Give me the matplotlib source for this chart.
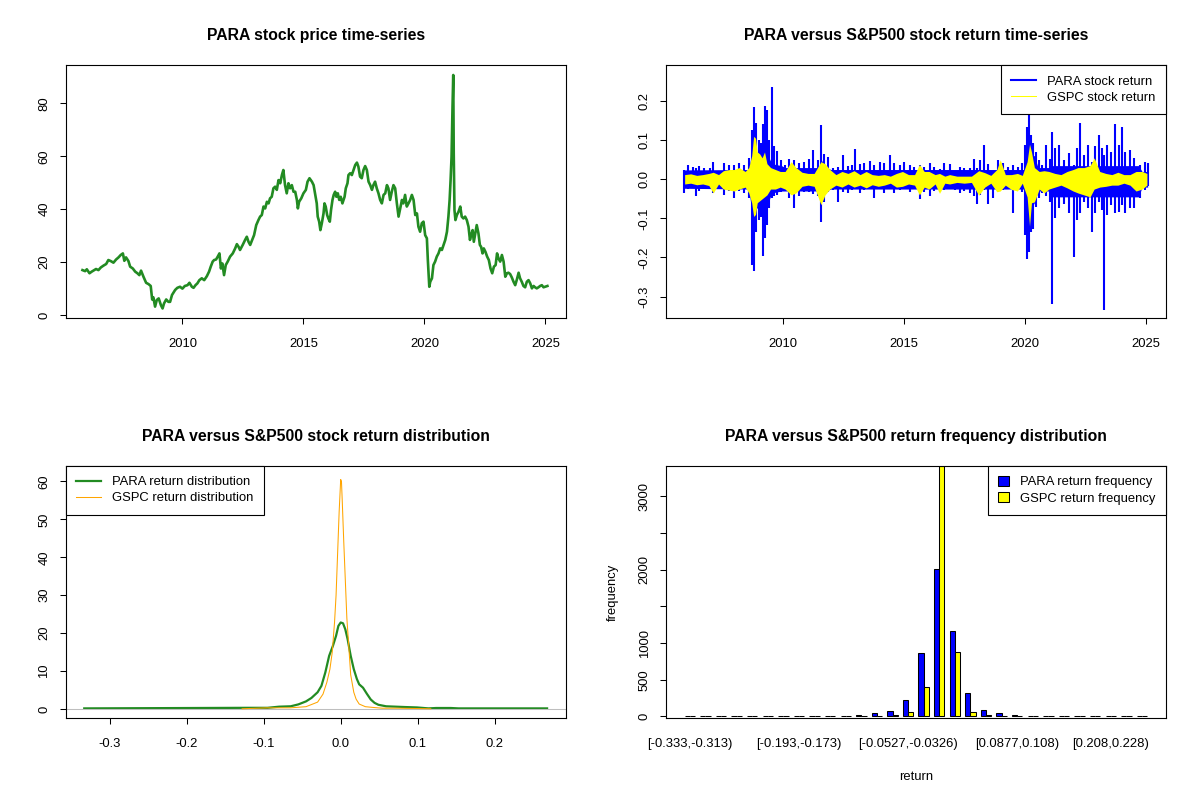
import numpy as np
import matplotlib
matplotlib.use('Agg')
import matplotlib.pyplot as plt
from matplotlib.lines import Line2D
from matplotlib.patches import Patch

plt.rcParams['font.family'] = ['Liberation Sans', 'DejaVu Sans']

# --- PARA closing price
price_years = [
    2005.87, 2005.98, 2006.05, 2006.16, 2006.25, 2006.32, 2006.43, 2006.53, 2006.63, 2006.74,
    2006.85, 2006.94, 2007.04, 2007.15, 2007.26, 2007.36, 2007.45, 2007.54, 2007.60, 2007.67,
    2007.77, 2007.84, 2007.95, 2008.05, 2008.14, 2008.22, 2008.29, 2008.39, 2008.50, 2008.60,
    2008.69, 2008.75, 2008.80, 2008.87, 2008.94, 2009.02, 2009.11, 2009.18, 2009.24, 2009.33,
    2009.42, 2009.49, 2009.57, 2009.70, 2009.79, 2009.90, 2010.00, 2010.10, 2010.21, 2010.29,
    2010.39, 2010.46, 2010.54, 2010.62, 2010.70, 2010.80, 2010.90, 2011.01, 2011.10, 2011.17,
    2011.25, 2011.31, 2011.39, 2011.46, 2011.53, 2011.59, 2011.65, 2011.72, 2011.79, 2011.87,
    2011.97, 2012.08, 2012.18, 2012.25, 2012.32, 2012.38, 2012.49, 2012.59, 2012.66, 2012.73,
    2012.80, 2012.88, 2012.96, 2013.05, 2013.14, 2013.21, 2013.28, 2013.35, 2013.42, 2013.49,
    2013.56, 2013.62, 2013.69, 2013.76, 2013.83, 2013.90, 2013.97, 2014.04,
    2014.11, 2014.17, 2014.24, 2014.31, 2014.38, 2014.45, 2014.52, 2014.59, 2014.66, 2014.73,
    2014.77, 2014.82, 2014.91, 2015.00, 2015.10, 2015.17, 2015.25, 2015.35, 2015.42, 2015.48,
    2015.55, 2015.59, 2015.65, 2015.70, 2015.76, 2015.83, 2015.87, 2015.92, 2015.98, 2016.03,
    2016.09, 2016.14, 2016.20, 2016.25, 2016.31, 2016.36, 2016.42, 2016.48, 2016.54, 2016.61,
    2016.70, 2016.75, 2016.82, 2016.86, 2016.93, 2017.00, 2017.07, 2017.14, 2017.21, 2017.27,
    2017.34, 2017.41, 2017.48, 2017.55, 2017.62, 2017.69, 2017.76, 2017.83, 2017.89, 2017.96,
    2018.03, 2018.10, 2018.17, 2018.24, 2018.31, 2018.38, 2018.45, 2018.51, 2018.58, 2018.65,
    2018.72, 2018.79, 2018.86, 2018.93, 2019.00, 2019.07, 2019.13, 2019.20, 2019.27, 2019.34,
    2019.41, 2019.48, 2019.55, 2019.62, 2019.69, 2019.75, 2019.82, 2019.89, 2019.96, 2020.03,
    2020.10, 2020.14, 2020.20, 2020.24, 2020.31, 2020.37, 2020.44, 2020.51, 2020.58, 2020.65,
    2020.72, 2020.79, 2020.86, 2020.93, 2020.99, 2021.04, 2021.08, 2021.12, 2021.16, 2021.19,
    2021.21, 2021.24, 2021.28, 2021.34, 2021.41, 2021.48, 2021.54, 2021.61, 2021.68, 2021.75,
    2021.82, 2021.88, 2021.93, 2021.99, 2022.04, 2022.10, 2022.16, 2022.23, 2022.29, 2022.34,
    2022.40, 2022.45, 2022.52, 2022.59, 2022.66, 2022.73, 2022.80, 2022.87, 2022.94,
    2023.00, 2023.06, 2023.13, 2023.20, 2023.27, 2023.34, 2023.41, 2023.47, 2023.54, 2023.61,
    2023.68, 2023.75, 2023.82, 2023.89, 2023.95, 2024.02, 2024.09, 2024.16, 2024.23, 2024.30,
    2024.37, 2024.44, 2024.51, 2024.57, 2024.64, 2024.71, 2024.78, 2024.85, 2024.92, 2024.99,
    2025.08]
price_values = [
    17.0, 16.6, 17.3, 15.8, 16.4, 16.8, 17.4, 17.0, 18.0, 18.7,
    19.3, 20.8, 20.4, 19.8, 21.0, 21.8, 22.7, 23.3, 20.5, 21.8,
    20.4, 18.3, 17.6, 16.4, 15.8, 15.1, 16.8, 14.5, 12.2, 11.7,
    11.0, 5.9, 6.7, 3.2, 5.7, 6.3, 3.8, 2.5, 4.4, 5.9,
    5.0, 5.0, 7.6, 9.5, 10.3, 10.7, 10.0, 11.0, 11.3, 12.2,
    10.7, 10.3, 11.3, 12.0, 13.2, 13.9, 13.2, 14.7, 16.4, 18.3,
    20.2, 20.8, 21.0, 22.1, 23.3, 17.6, 19.5, 15.1, 18.9, 20.2,
    22.1, 23.3, 25.2, 26.8, 25.8, 24.6, 26.5, 28.4, 29.6, 27.7,
    26.5, 28.4, 30.2, 34.0, 35.9, 37.2, 37.8, 41.0, 40.3, 42.8,
    42.2, 44.1, 44.7, 47.9, 48.5, 47.3, 51.0, 49.8,
    52.9, 54.8, 49.1, 46.0, 49.8, 47.9, 49.1, 46.6, 46.6, 43.5,
    40.3, 42.8, 44.1, 46.0, 47.3, 50.4, 51.7, 50.4, 49.1, 46.0,
    42.2, 37.2, 35.3, 32.1, 34.7, 38.4, 42.2, 41.0, 37.8, 36.5,
    35.3, 39.7, 43.5, 45.4, 46.6, 44.7, 46.0, 43.5, 44.7, 42.2,
    44.7, 47.9, 49.8, 52.9, 53.6, 52.9, 54.8, 56.7, 57.6, 56.1,
    52.3, 51.7, 54.8, 56.3, 54.8, 50.4, 49.1, 47.3, 49.1, 50.4,
    47.9, 46.0, 43.5, 42.2, 45.4, 46.0, 49.1, 47.9, 43.5, 46.6,
    49.1, 47.9, 42.2, 37.2, 40.3, 43.5, 42.2, 45.4, 41.0, 42.2,
    43.5, 45.4, 43.5, 37.8, 38.4, 33.4, 31.5, 34.7, 35.3, 30.2,
    29.0, 20.8, 10.7, 12.6, 13.9, 18.9, 20.2, 22.1, 23.3, 25.2,
    24.6, 26.5, 28.4, 31.5, 37.2, 43.5, 51.0, 59.9, 78.8, 90.7,
    61.1, 39.7, 35.9, 37.8, 39.1, 41.0, 37.2, 36.5, 37.2, 35.9,
    33.4, 28.4, 30.2, 32.1, 27.7, 30.9, 34.0, 30.9, 26.5, 25.8,
    23.3, 25.2, 23.9, 22.1, 20.8, 17.6, 15.8, 18.3, 18.9,
    23.3, 21.4, 20.2, 22.7, 20.2, 14.5, 15.8, 16.0, 15.5, 14.2,
    12.6, 11.3, 13.5, 16.0, 13.9, 12.6, 11.0, 10.5, 12.6, 13.2,
    12.0, 10.1, 11.0, 10.5, 10.1, 10.5, 11.0, 11.3, 10.5, 10.7,
    11.0]

# --- PARA daily return: highest / lowest value seen in each slice of time
ret_years = [
    2005.91, 2006.07, 2006.28, 2006.42, 2006.53, 2006.74, 2007.01, 2007.13, 2007.29, 2007.56,
    2007.80, 2008.00, 2008.21, 2008.42, 2008.60, 2008.72, 2008.82, 2008.91, 2009.02, 2009.12,
    2009.20, 2009.28, 2009.37, 2009.45, 2009.55, 2009.64, 2009.77, 2009.93, 2010.11, 2010.28,
    2010.48, 2010.69, 2010.90, 2011.09, 2011.25, 2011.45, 2011.58, 2011.69, 2011.86, 2012.08,
    2012.27, 2012.49, 2012.69, 2012.87, 2013.00, 2013.18, 2013.38, 2013.60, 2013.79, 2014.01,
    2014.20, 2014.42, 2014.62, 2014.84, 2015.03, 2015.25, 2015.44, 2015.66, 2015.86, 2016.08,
    2016.27, 2016.49, 2016.68, 2016.90, 2017.10, 2017.32, 2017.51, 2017.73, 2017.89, 2018.03,
    2018.17, 2018.31, 2018.47, 2018.69, 2018.89, 2019.11, 2019.30, 2019.52, 2019.71, 2019.89,
    2020.02, 2020.11, 2020.19, 2020.28, 2020.36, 2020.46, 2020.58, 2020.72, 2020.88, 2021.03,
    2021.14, 2021.27, 2021.43, 2021.64, 2021.85, 2022.03, 2022.16, 2022.30, 2022.44, 2022.60,
    2022.78, 2022.92, 2023.06, 2023.20, 2023.29, 2023.40, 2023.57, 2023.75, 2023.89, 2024.02,
    2024.16, 2024.34, 2024.53, 2024.75, 2024.95, 2025.08]
para_hi = [
    0.024, 0.037, 0.032, 0.030, 0.034, 0.028, 0.030, 0.044, 0.018, 0.041,
    0.037, 0.037, 0.041, 0.037, 0.054, 0.126, 0.184, 0.144, 0.101, 0.092,
    0.141, 0.188, 0.178, 0.101, 0.236, 0.084, 0.073, 0.050, 0.037, 0.052,
    0.050, 0.041, 0.045, 0.052, 0.074, 0.050, 0.139, 0.064, 0.056, 0.028,
    0.032, 0.061, 0.035, 0.037, 0.077, 0.038, 0.041, 0.047, 0.037, 0.044,
    0.041, 0.062, 0.041, 0.037, 0.045, 0.037, 0.032, 0.037, 0.032, 0.041,
    0.032, 0.026, 0.041, 0.038, 0.020, 0.032, 0.030, 0.028, 0.051, 0.028,
    0.050, 0.088, 0.038, 0.020, 0.050, 0.041, 0.032, 0.037, 0.032, 0.041,
    0.088, 0.135, 0.268, 0.114, 0.092, 0.071, 0.050, 0.037, 0.088, 0.052,
    0.122, 0.079, 0.088, 0.050, 0.067, 0.037, 0.079, 0.144, 0.062, 0.088,
    0.045, 0.084, 0.114, 0.079, 0.062, 0.088, 0.071, 0.141, 0.088, 0.135,
    0.071, 0.075, 0.054, 0.037, 0.045, 0.041]
para_lo = [
    -0.036, -0.025, -0.023, -0.042, -0.030, -0.019, -0.025, -0.036, -0.015, -0.040,
    -0.030, -0.049, -0.030, -0.034, -0.047, -0.220, -0.234, -0.134, -0.104, -0.096,
    -0.196, -0.151, -0.117, -0.074, -0.049, -0.044, -0.040, -0.032, -0.027, -0.049,
    -0.074, -0.042, -0.033, -0.032, -0.038, -0.044, -0.109, -0.057, -0.032, -0.027,
    -0.057, -0.033, -0.036, -0.027, -0.023, -0.036, -0.027, -0.023, -0.047, -0.015,
    -0.036, -0.021, -0.036, -0.027, -0.016, -0.032, -0.019, -0.051, -0.032, -0.044,
    -0.030, -0.032, -0.027, -0.015, -0.027, -0.036, -0.030, -0.036, -0.044, -0.062,
    -0.040, -0.027, -0.062, -0.047, -0.032, -0.027, -0.025, -0.087, -0.027, -0.032,
    -0.143, -0.203, -0.185, -0.134, -0.126, -0.070, -0.049, -0.036, -0.044, -0.057,
    -0.318, -0.100, -0.074, -0.062, -0.087, -0.198, -0.104, -0.087, -0.057, -0.074,
    -0.134, -0.087, -0.057, -0.079, -0.335, -0.091, -0.066, -0.087, -0.083, -0.066,
    -0.087, -0.074, -0.074, -0.049, -0.027, -0.016]

# --- PARA dense core of the return band (where the blue is solid)
core_years = [2005.91, 2008.60, 2008.72, 2009.40, 2009.55, 2009.95, 2010.10, 2011.50, 2011.60,
              2011.75, 2012.00, 2020.00, 2020.12, 2020.40, 2020.55, 2021.00, 2021.15, 2024.70,
              2024.85, 2025.08]
core_hi = [0.024, 0.025, 0.070, 0.060, 0.040, 0.035, 0.030, 0.030, 0.050,
           0.030, 0.025, 0.025, 0.070, 0.060, 0.030, 0.030, 0.035, 0.035,
           0.020, 0.020]
core_lo = [-0.023, -0.025, -0.080, -0.060, -0.035, -0.030, -0.030, -0.030, -0.055,
           -0.030, -0.025, -0.025, -0.090, -0.060, -0.030, -0.030, -0.045, -0.045,
           -0.020, -0.020]

# --- GSPC daily return band
gspc_years = [
    2005.95, 2006.20, 2006.45, 2006.70, 2006.95, 2007.13, 2007.35, 2007.55, 2007.80, 2008.00,
    2008.20, 2008.45, 2008.60, 2008.72, 2008.80, 2008.88, 2008.95, 2009.05, 2009.15, 2009.25,
    2009.35, 2009.50, 2009.70, 2009.90, 2010.10, 2010.35, 2010.55, 2010.80, 2011.05, 2011.30,
    2011.58, 2011.75, 2011.95, 2012.20, 2012.45, 2012.70, 2012.95, 2013.20, 2013.45, 2013.70,
    2013.95, 2014.20, 2014.45, 2014.70, 2014.95, 2015.20, 2015.45, 2015.65, 2015.85, 2016.05,
    2016.30, 2016.48, 2016.70, 2016.90, 2017.20, 2017.50, 2017.80, 2018.10, 2018.35, 2018.60,
    2018.85, 2018.99, 2019.20, 2019.45, 2019.70, 2019.90, 2020.10, 2020.20, 2020.28, 2020.40,
    2020.60, 2020.80, 2021.00, 2021.25, 2021.50, 2021.75, 2022.00, 2022.20, 2022.45, 2022.70,
    2022.87, 2023.10, 2023.35, 2023.60, 2023.85, 2024.10, 2024.35, 2024.60, 2024.85, 2025.05]
gspc_hi = [
    0.012, 0.014, 0.010, 0.012, 0.015, 0.018, 0.012, 0.022, 0.025, 0.025,
    0.030, 0.020, 0.030, 0.060, 0.110, 0.105, 0.070, 0.065, 0.055, 0.070,
    0.040, 0.030, 0.025, 0.020, 0.020, 0.045, 0.030, 0.018, 0.015, 0.015,
    0.045, 0.040, 0.025, 0.012, 0.020, 0.015, 0.022, 0.012, 0.020, 0.012,
    0.010, 0.012, 0.008, 0.015, 0.020, 0.012, 0.012, 0.038, 0.020, 0.020,
    0.012, 0.015, 0.008, 0.012, 0.008, 0.008, 0.008, 0.022, 0.017, 0.010,
    0.025, 0.050, 0.012, 0.012, 0.015, 0.010, 0.045, 0.090, 0.070, 0.030,
    0.020, 0.022, 0.020, 0.015, 0.012, 0.020, 0.025, 0.030, 0.030, 0.035,
    0.055, 0.020, 0.015, 0.012, 0.018, 0.012, 0.012, 0.020, 0.020, 0.015]
gspc_lo = [
    -0.012, -0.010, -0.014, -0.012, -0.016, -0.035, -0.012, -0.025, -0.028, -0.030,
    -0.025, -0.020, -0.035, -0.060, -0.095, -0.090, -0.060, -0.055, -0.050, -0.045,
    -0.040, -0.025, -0.025, -0.020, -0.025, -0.040, -0.035, -0.018, -0.015, -0.018,
    -0.065, -0.040, -0.025, -0.015, -0.020, -0.012, -0.020, -0.015, -0.022, -0.014,
    -0.018, -0.015, -0.010, -0.020, -0.018, -0.012, -0.015, -0.040, -0.020, -0.025,
    -0.012, -0.036, -0.010, -0.012, -0.008, -0.010, -0.008, -0.041, -0.020, -0.010,
    -0.032, -0.030, -0.015, -0.026, -0.030, -0.010, -0.045, -0.120, -0.060, -0.058,
    -0.025, -0.035, -0.025, -0.020, -0.015, -0.022, -0.030, -0.035, -0.040, -0.045,
    -0.025, -0.020, -0.018, -0.015, -0.015, -0.010, -0.015, -0.030, -0.025, -0.015]

# --- kernel densities
para_dens_x = [-0.333, -0.12, -0.095, -0.08, -0.065, -0.055, -0.045, -0.038, -0.030, -0.025,
               -0.020, -0.015, -0.010, -0.006, -0.003, 0.0, 0.003, 0.006, 0.009, 0.013,
               0.017, 0.021, 0.024, 0.029, 0.034, 0.039, 0.044, 0.049, 0.059, 0.084,
               0.099, 0.114, 0.124, 0.143, 0.153, 0.268]
para_dens_y = [0.15, 0.3, 0.3, 0.6, 0.7, 1.2, 2.0, 2.9, 4.4, 6.1,
               9.6, 14.0, 16.7, 19.3, 21.9, 22.8, 22.6, 21.0, 18.4, 14.0,
               10.5, 7.9, 6.5, 5.6, 4.0, 2.5, 1.6, 1.1, 0.7, 0.5,
               0.4, 0.15, 0.25, 0.25, 0.15, 0.15]
gspc_dens_x = [-0.128, -0.095, -0.065, -0.045, -0.030, -0.023, -0.018, -0.014, -0.011, -0.008,
               -0.006, -0.004, -0.002, 0.0, 0.001, 0.002, 0.004, 0.006, 0.008, 0.011,
               0.013, 0.017, 0.020, 0.024, 0.032, 0.042, 0.054, 0.074, 0.117]
gspc_dens_y = [0.05, 0.3, 0.3, 0.6, 1.8, 3.9, 7.0, 10.5, 14.9, 22.8,
               30.0, 41.0, 52.0, 60.5, 60.0, 55.0, 44.0, 34.0, 24.0, 15.0,
               9.0, 4.4, 2.6, 1.3, 0.6, 0.4, 0.2, 0.2, 0.05]

# --- return frequency per bin (30 bins)
para_counts = [2, 0, 0, 0, 0, 2, 3, 2, 1, 2, 4, 18, 45, 72, 227,
               861, 2007, 1160, 317, 86, 45, 18, 12, 8, 5, 6, 2, 1, 1, 0]
gspc_counts = [0, 0, 0, 0, 0, 0, 0, 0, 0, 0, 1, 2, 12, 15, 63,
               399, 3416, 875, 59, 18, 9, 4, 2, 0, 0, 0, 0, 0, 0, 0]
hist_label_idx = [0, 7, 14, 21, 27]
hist_labels = ['[-0.333,-0.313)', '[-0.193,-0.173)', '[-0.0527,-0.0326)',
               '[0.0877,0.108)', '[0.208,0.228)']

FS = 9.4
FS_TITLE = 11.3


def style_axes(ax, ypad=7):
    """R base graphics look: thin box, outward ticks, rotated y labels"""
    for sp in ax.spines.values():
        sp.set_linewidth(0.8)
        sp.set_color('black')
    ax.tick_params(direction='out', length=4.1, width=0.75, labelsize=FS, colors='black')
    ax.tick_params(axis='x', pad=10)
    ax.tick_params(axis='y', pad=ypad)
    for lab in ax.get_yticklabels():
        lab.set_rotation(90)
        lab.set_verticalalignment('center')


def r_legend(ax, handles, labels, loc, **kw):
    leg = ax.legend(handles, labels, loc=loc, fontsize=FS, frameon=True, fancybox=False,
                    borderaxespad=0, framealpha=1, edgecolor='black', borderpad=0.8,
                    labelspacing=0.3, handletextpad=0.85, **kw)
    leg.get_frame().set_linewidth(0.8)
    leg.set_zorder(10)
    return leg


def plot_price(ax):
    ax.plot(price_years, price_values, color='forestgreen', lw=1.9)
    ax.set_xlim(2005.18, 2025.83)
    ax.set_ylim(-1.1, 94.4)
    ax.set_xticks([2010, 2015, 2020, 2025])
    ax.set_yticks([0, 20, 40, 60, 80])
    ax.set_title('PARA stock price time-series', fontsize=FS_TITLE, fontweight='bold', pad=18)
    style_axes(ax)


def plot_returns(ax):
    ax.fill_between(core_years, core_lo, core_hi, color='blue', lw=0, zorder=2)
    ax.vlines(ret_years, para_lo, para_hi, color='blue', lw=1.5, zorder=2)
    ax.fill_between(gspc_years, gspc_lo, gspc_hi, color='yellow', lw=0, zorder=3)
    ax.set_xlim(2005.18, 2025.83)
    ax.set_ylim(-0.355, 0.292)
    ax.set_xticks([2010, 2015, 2020, 2025])
    ax.set_yticks([-0.3, -0.2, -0.1, 0.0, 0.1, 0.2])
    ax.set_yticklabels(['-0.3', '-0.2', '-0.1', '0.0', '0.1', '0.2'])
    ax.set_title('PARA versus S&P500 stock return time-series', fontsize=FS_TITLE,
                 fontweight='bold', pad=18)
    style_axes(ax)
    handles = [Line2D([], [], color='blue', lw=1.5), Line2D([], [], color='yellow', lw=0.75)]
    r_legend(ax, handles, ['PARA stock return', 'GSPC stock return'], 'upper right',
             handlelength=1.9)


def plot_density(ax):
    ax.plot(para_dens_x, para_dens_y, color='forestgreen', lw=1.6)
    ax.axhline(0, color='#BEBEBE', lw=0.75)
    ax.plot(gspc_dens_x, gspc_dens_y, color='orange', lw=0.75)
    ax.set_xlim(-0.357, 0.292)
    ax.set_ylim(-2.47, 64.2)
    ax.set_xticks([-0.3, -0.2, -0.1, 0.0, 0.1, 0.2])
    ax.set_xticklabels(['-0.3', '-0.2', '-0.1', '0.0', '0.1', '0.2'])
    ax.set_yticks([0, 10, 20, 30, 40, 50, 60])
    ax.set_title('PARA versus S&P500 stock return distribution', fontsize=FS_TITLE,
                 fontweight='bold', pad=18)
    style_axes(ax)
    handles = [Line2D([], [], color='forestgreen', lw=1.6), Line2D([], [], color='orange', lw=0.75)]
    r_legend(ax, handles, ['PARA return distribution', 'GSPC return distribution'], 'upper left',
             handlelength=1.9)


def plot_hist(ax):
    idx = np.arange(len(para_counts))
    ax.bar(3 * idx + 1.5, para_counts, width=1, color='blue', edgecolor='black', lw=0.75)
    ax.bar(3 * idx + 2.5, gspc_counts, width=1, color='yellow', edgecolor='black', lw=0.75)
    ax.set_xlim(-2.56, 93.56)
    ax.set_ylim(-25, 3416)
    ax.set_xticks([3 * i + 2 for i in hist_label_idx])
    ax.set_xticklabels(hist_labels)
    ax.set_yticks([0, 500, 1000, 1500, 2000, 2500, 3000])
    ax.set_yticklabels(['0', '500', '1000', '', '2000', '', '3000'])
    ax.set_xlabel('return', fontsize=FS, labelpad=15)
    ax.set_ylabel('frequency', fontsize=FS, labelpad=14)
    ax.set_title('PARA versus S&P500 return frequency distribution', fontsize=FS_TITLE,
                 fontweight='bold', pad=18)
    style_axes(ax)
    ax.tick_params(axis='x', length=0, pad=14)
    handles = [Patch(facecolor='blue', edgecolor='black', lw=0.75),
               Patch(facecolor='yellow', edgecolor='black', lw=0.75)]
    r_legend(ax, handles, ['PARA return frequency', 'GSPC return frequency'], 'upper right',
             handlelength=0.8, handleheight=0.8)


assert len(price_years) == len(price_values)
assert len(ret_years) == len(para_hi) == len(para_lo)
assert len(core_years) == len(core_hi) == len(core_lo)
assert len(gspc_years) == len(gspc_hi) == len(gspc_lo)

fig = plt.figure(figsize=(12, 8), dpi=100)
w, h = 0.4165, 0.316
ax_tl = fig.add_axes([0.0548, 0.6025, w, h])
ax_tr = fig.add_axes([0.5550, 0.6025, w, h])
ax_bl = fig.add_axes([0.0548, 0.1021, w, h])
ax_br = fig.add_axes([0.5550, 0.1021, w, h])

plot_price(ax_tl)
plot_returns(ax_tr)
plot_density(ax_bl)
plot_hist(ax_br)

fig.savefig('out.png', dpi=100)
